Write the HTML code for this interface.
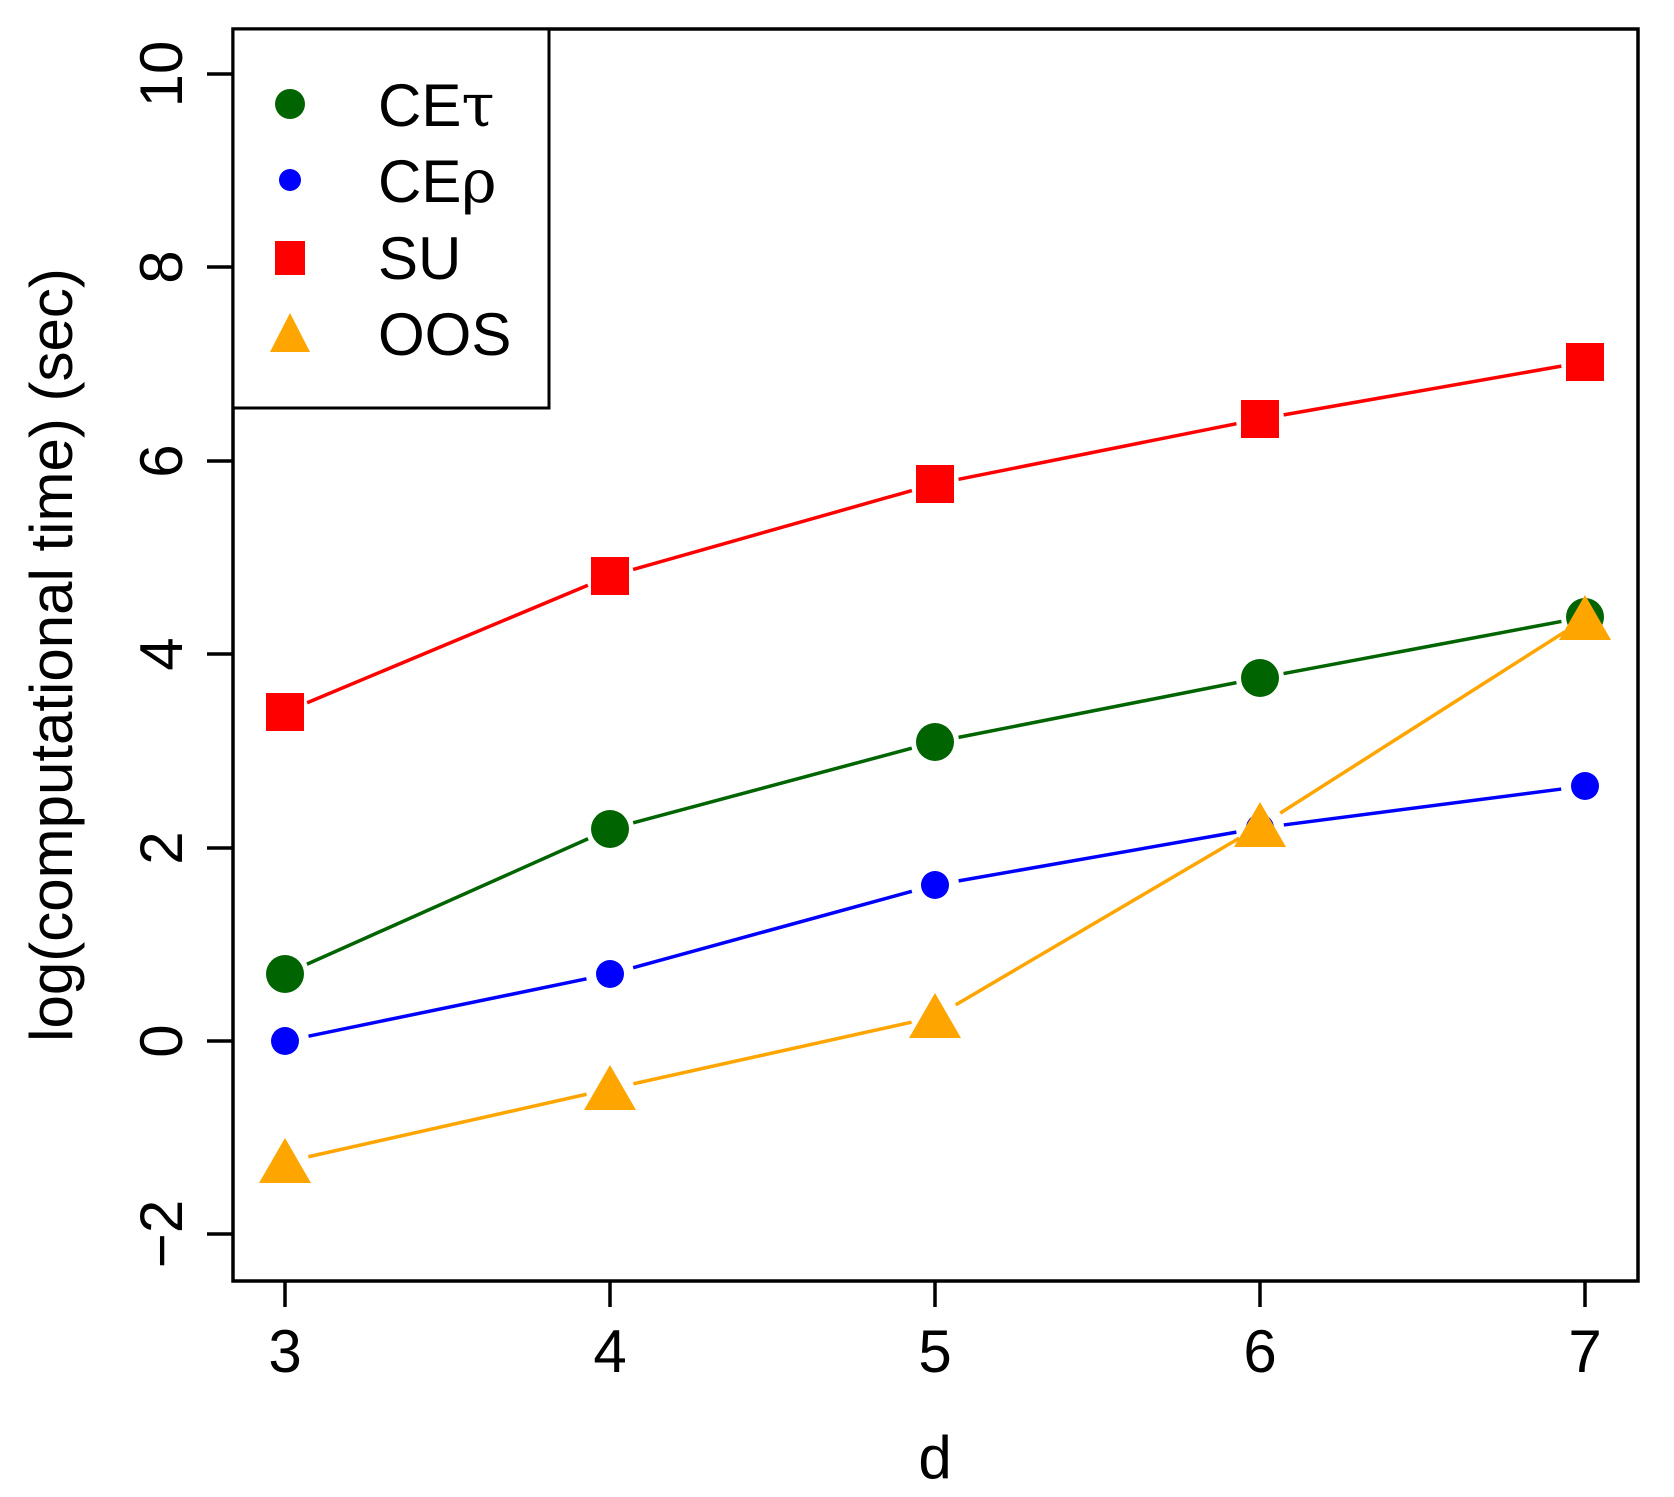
<!DOCTYPE html>
<html><head><meta charset="utf-8"><style>
html,body{margin:0;padding:0;background:#fff;}
svg{display:block;}
text{font-family:"Liberation Sans",Arial,sans-serif;fill:#000;}
</style></head><body>
<svg id="s" width="1674" height="1497" viewBox="0 0 1674 1497" xmlns="http://www.w3.org/2000/svg">
<rect x="0" y="0" width="1674" height="1497" fill="#fff"/>
<g id="lines"></g>
<g id="marks"></g>
<rect x="233" y="29" width="1405" height="1252" fill="none" stroke="#000" stroke-width="3.5"/>
<!-- x ticks -->
<g stroke="#000" stroke-width="3.5">
<line x1="285" y1="1281" x2="285" y2="1307"/><line x1="610" y1="1281" x2="610" y2="1307"/>
<line x1="935" y1="1281" x2="935" y2="1307"/><line x1="1260" y1="1281" x2="1260" y2="1307"/>
<line x1="1585" y1="1281" x2="1585" y2="1307"/>
<line x1="207" y1="74" x2="233" y2="74"/><line x1="207" y1="267" x2="233" y2="267"/>
<line x1="207" y1="461" x2="233" y2="461"/><line x1="207" y1="654" x2="233" y2="654"/>
<line x1="207" y1="848" x2="233" y2="848"/><line x1="207" y1="1041" x2="233" y2="1041"/>
<line x1="207" y1="1234" x2="233" y2="1234"/>
</g>
<g font-size="60" text-anchor="middle">
<text x="285" y="1372">3</text><text x="610" y="1372">4</text><text x="935" y="1372">5</text>
<text x="1260" y="1372">6</text><text x="1585" y="1372">7</text>
<text x="935" y="1478">d</text>
</g>
<g font-size="60" text-anchor="middle">
<text transform="translate(182,74) rotate(-90)">10</text>
<text transform="translate(182,267) rotate(-90)">8</text>
<text transform="translate(182,461) rotate(-90)">6</text>
<text transform="translate(182,654) rotate(-90)">4</text>
<text transform="translate(182,848) rotate(-90)">2</text>
<text transform="translate(182,1041) rotate(-90)">0</text>
<text transform="translate(182,1234) rotate(-90)">−2</text>
<text transform="translate(72,655) rotate(-90)">log(computational time) (sec)</text>
</g>
<!-- legend -->
<rect x="233" y="29" width="316" height="379" fill="#fff" stroke="#000" stroke-width="3"/>
<circle cx="290" cy="104" r="15" fill="#006400"/>
<circle cx="290" cy="180" r="11" fill="#0000ff"/>
<rect x="275" y="241" width="30" height="34" fill="#ff0000"/>
<polygon points="290,313 310,352 270,352" fill="#ffa500"/>
<g font-size="60">
<text x="378" y="126">CE<tspan font-family="'DejaVu Serif','Liberation Serif',serif">τ</tspan></text>
<text x="378" y="202">CE<tspan font-family="'DejaVu Serif','Liberation Serif',serif">ρ</tspan></text>
<text x="378" y="279">SU</text>
<text x="378" y="355">OOS</text>
</g>
</svg>
<script>
var X=[285,610,935,1260,1585];
var S=[
 {c:"#ff0000",y:[712,576,484,419,362],m:"sq"},
 {c:"#006400",y:[974,829,742,678,617],m:"big"},
 {c:"#0000ff",y:[1041,974,885,828,786],m:"small"},
 {c:"#ffa500",y:[1162,1089,1017,826,619],m:"tri"}
];
var NS="http://www.w3.org/2000/svg";
var L=document.getElementById("lines"),M=document.getElementById("marks");
function el(t,a,p){var e=document.createElementNS(NS,t);for(var k in a)e.setAttribute(k,a[k]);p.appendChild(e);return e;}
S.forEach(function(s){
 for(var i=0;i<4;i++){
  var x1=X[i],y1=s.y[i],x2=X[i+1],y2=s.y[i+1];
  var dx=x2-x1,dy=y2-y1,d=Math.sqrt(dx*dx+dy*dy),g=24/d;
  el("line",{x1:x1+dx*g,y1:y1+dy*g,x2:x2-dx*g,y2:y2-dy*g,stroke:s.c,"stroke-width":3.5},L);
 }
 for(var i=0;i<5;i++){
  var x=X[i],y=s.y[i];
  if(s.m=="sq")el("rect",{x:x-19,y:y-19,width:38,height:38,fill:s.c},M);
  else if(s.m=="big")el("circle",{cx:x,cy:y,r:19,fill:s.c},M);
  else if(s.m=="small")el("circle",{cx:x,cy:y,r:14,fill:s.c},M);
  else el("polygon",{points:x+","+(y-24)+" "+(x+26)+","+(y+21)+" "+(x-26)+","+(y+21),fill:s.c},M);
 }
});
</script>
</body></html>
